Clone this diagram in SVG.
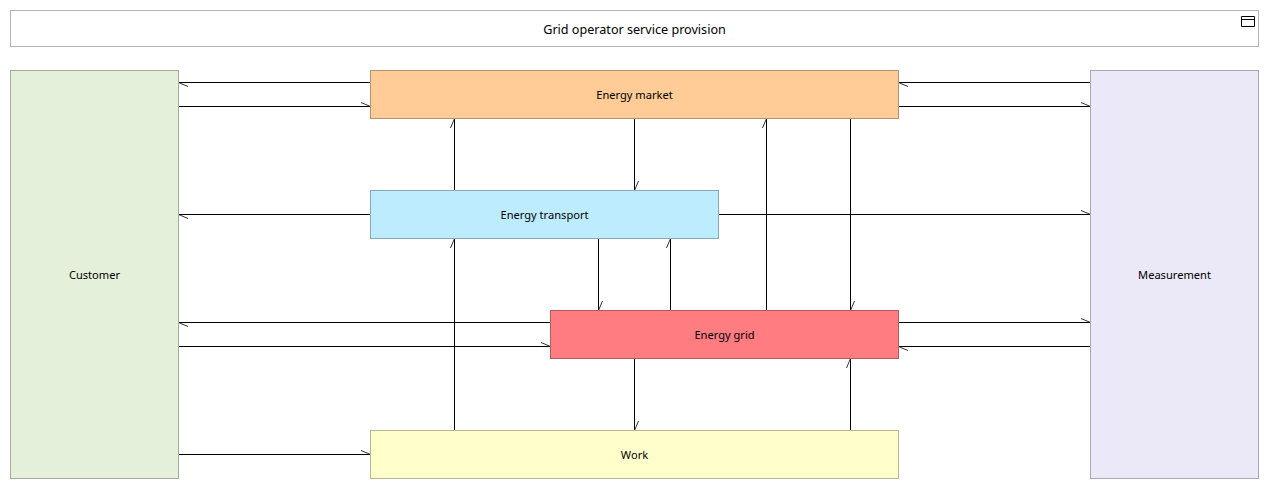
<svg xmlns="http://www.w3.org/2000/svg" width="1269" height="489" viewBox="0 0 1269 489">
<style>
text{font-family:"Noto Sans","Open Sans",sans-serif;font-size:11.1px;fill:#000;text-anchor:middle;dominant-baseline:central}
#title text{font-size:12.6px}
.n{stroke-width:1}
#connectors line{stroke:#000;stroke-width:1;marker-end:url(#barb)}
</style>
<defs>
<marker id="barb" markerUnits="userSpaceOnUse" markerWidth="24" markerHeight="24" refX="12" refY="12" orient="auto" overflow="visible">
<path d="M12 12L2.5 8" fill="none" stroke="#333" stroke-width="1"/>
</marker>
</defs>
<rect width="1269" height="489" fill="#fff"/>
<g id="title">
<rect class="n" x="10.5" y="10.5" width="1248" height="36" fill="#fff" stroke="#b3b3b3"/>
<text x="634.5" y="29">Grid operator service provision</text>
<path d="M1241.5 16.5h13v10h-13zM1241.5 19.5h13" fill="none" stroke="#000"/>
</g>
<g id="connectors">
<line x1="370.5" y1="82.5" x2="178.5" y2="82.5"/>
<line x1="178.5" y1="106.5" x2="370.5" y2="106.5"/>
<line x1="1090.5" y1="82.5" x2="898.5" y2="82.5"/>
<line x1="898.5" y1="106.5" x2="1090.5" y2="106.5"/>
<line x1="370.5" y1="214.5" x2="178.5" y2="214.5"/>
<line x1="718.5" y1="214.5" x2="1090.5" y2="214.5"/>
<line x1="550.5" y1="322.5" x2="178.5" y2="322.5"/>
<line x1="178.5" y1="346.5" x2="550.5" y2="346.5"/>
<line x1="898.5" y1="322.5" x2="1090.5" y2="322.5"/>
<line x1="1090.5" y1="346.5" x2="898.5" y2="346.5"/>
<line x1="178.5" y1="454.5" x2="370.5" y2="454.5"/>
<line x1="454.5" y1="190.5" x2="454.5" y2="118.5"/>
<line x1="634.5" y1="118.5" x2="634.5" y2="190.5"/>
<line x1="766.5" y1="310.5" x2="766.5" y2="118.5"/>
<line x1="850.5" y1="118.5" x2="850.5" y2="310.5"/>
<line x1="454.5" y1="430.5" x2="454.5" y2="238.5"/>
<line x1="598.5" y1="238.5" x2="598.5" y2="310.5"/>
<line x1="670.5" y1="310.5" x2="670.5" y2="238.5"/>
<line x1="634.5" y1="358.5" x2="634.5" y2="430.5"/>
<line x1="850.5" y1="430.5" x2="850.5" y2="358.5"/>
</g>
<g id="customer">
<rect class="n" x="10.5" y="70.5" width="168" height="408" fill="#e4f0d9" stroke="#a3ad9a"/>
<text x="94.5" y="274.5">Customer</text>
</g>
<g id="measurement">
<rect class="n" x="1090.5" y="70.5" width="168" height="408" fill="#ebe8f8" stroke="#a9a7b5"/>
<text x="1174.5" y="274.5">Measurement</text>
</g>
<g id="energy-market">
<rect class="n" x="370.5" y="70.5" width="528" height="48" fill="#ffcb96" stroke="#b8926c"/>
<text x="634.5" y="94.5">Energy market</text>
</g>
<g id="energy-transport">
<rect class="n" x="370.5" y="190.5" width="348" height="48" fill="#bdecff" stroke="#88aab8"/>
<text x="544.5" y="214.5">Energy transport</text>
</g>
<g id="energy-grid">
<rect class="n" x="550.5" y="310.5" width="348" height="48" fill="#ff7c80" stroke="#b8595c"/>
<text x="724.5" y="334.5">Energy grid</text>
</g>
<g id="work">
<rect class="n" x="370.5" y="430.5" width="528" height="48" fill="#ffffcc" stroke="#b8b893"/>
<text x="634.5" y="454.5">Work</text>
</g>
</svg>
